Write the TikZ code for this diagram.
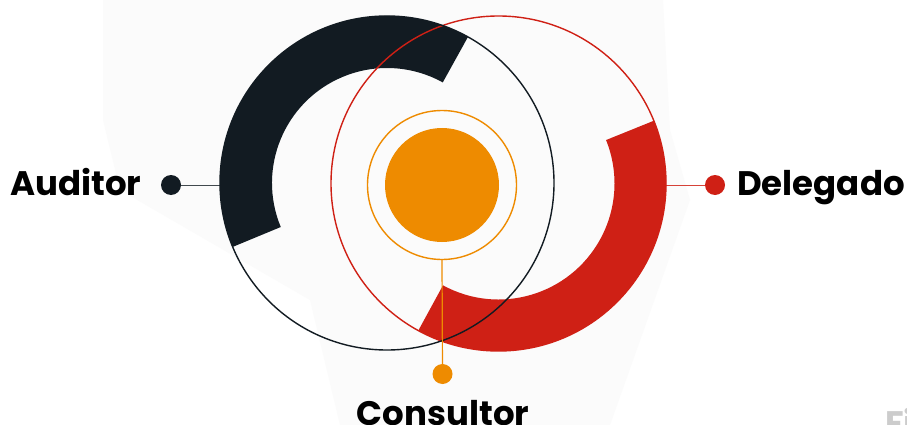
\documentclass[tikz,border=0pt]{standalone}
\usepackage{fontspec}
\setmainfont{Poppins}
\usetikzlibrary{calc}
\definecolor{darkc}{HTML}{121B22}
\definecolor{redc}{HTML}{CF2015}
\definecolor{orangec}{HTML}{EE8B00}
\definecolor{wash}{HTML}{FBFBFB}
\tikzset{
  lbl/.style={font=\fontsize{34}{36}\selectfont\bfseries,text=black,inner sep=0pt},
  dotn/.style={circle,inner sep=0pt,minimum size=20pt},
  ringline/.style={line width=1.4pt,draw},
  leader/.style={line width=0.9pt}
}
\begin{document}
\begin{tikzpicture}[x=1pt,y=-1pt]
\useasboundingbox (0,0) rectangle (907,425);
\clip (0,0) rectangle (907,425);
\fill[white] (0,0) rectangle (907,425);
\fill[wash] (103,0) -- (663,0) -- (670,130) -- (690,200) -- (610,425) -- (340,425) -- (310,300) -- (120,190) -- (103,120) -- cycle;
\coordinate (dc) at (387,183);
\coordinate (rc) at (498.5,183.5);
\coordinate (oc) at (442,185);
% leaders
\node[dotn,fill=darkc] (adot) at (171,185) {};
\node[dotn,fill=redc] (ddot) at (715,185) {};
\node[dotn,fill=orangec] (cdot) at (442.5,374) {};
\coordinate (aend) at (225,185);
\coordinate (dend) at (660,185);
\draw[leader,darkc!80] (adot) -- (aend);
\draw[leader,redc!85] (ddot) -- (dend);
% orange centre
\node[circle,draw=orangec,line width=1.4pt,minimum size=149pt,inner sep=0pt] (ring) at (oc) {};
\node[circle,fill=orangec,minimum size=114pt,inner sep=0pt] (core) at (oc) {};
% bands
\fill[darkc] ($(dc)+(61:167pt)$) arc[start angle=61,end angle=202.5,radius=167pt]
  -- ($(dc)+(202.5:115pt)$) arc[start angle=202.5,end angle=61,radius=115pt] -- cycle;
\fill[redc] ($(rc)+(22:167.5pt)$) arc[start angle=22,end angle=-118.6,radius=167.5pt]
  -- ($(rc)+(-118.6:116pt)$) arc[start angle=-118.6,end angle=22,radius=116pt] -- cycle;
% thin circles
\node[circle,draw=redc,line width=1.4pt,minimum size=335pt,inner sep=0pt] (rcirc) at (rc) {};
\node[circle,draw=darkc,line width=1.4pt,minimum size=334pt,inner sep=0pt] (dcirc) at (dc) {};
\draw[leader,orangec,line width=1.2pt] (ring.south) -- (cdot);
% labels
\node[lbl,anchor=base west] (alab) at (10,195) {Auditor};
\node[lbl,anchor=base west] (dlab) at (737,195) {Delegado};
\node[lbl,anchor=base] (clab) at (443,425) {Consultor};
\node[lbl,anchor=base west,text=black!20] (fi) at (885,435) {Fi};
\end{tikzpicture}
\end{document}
